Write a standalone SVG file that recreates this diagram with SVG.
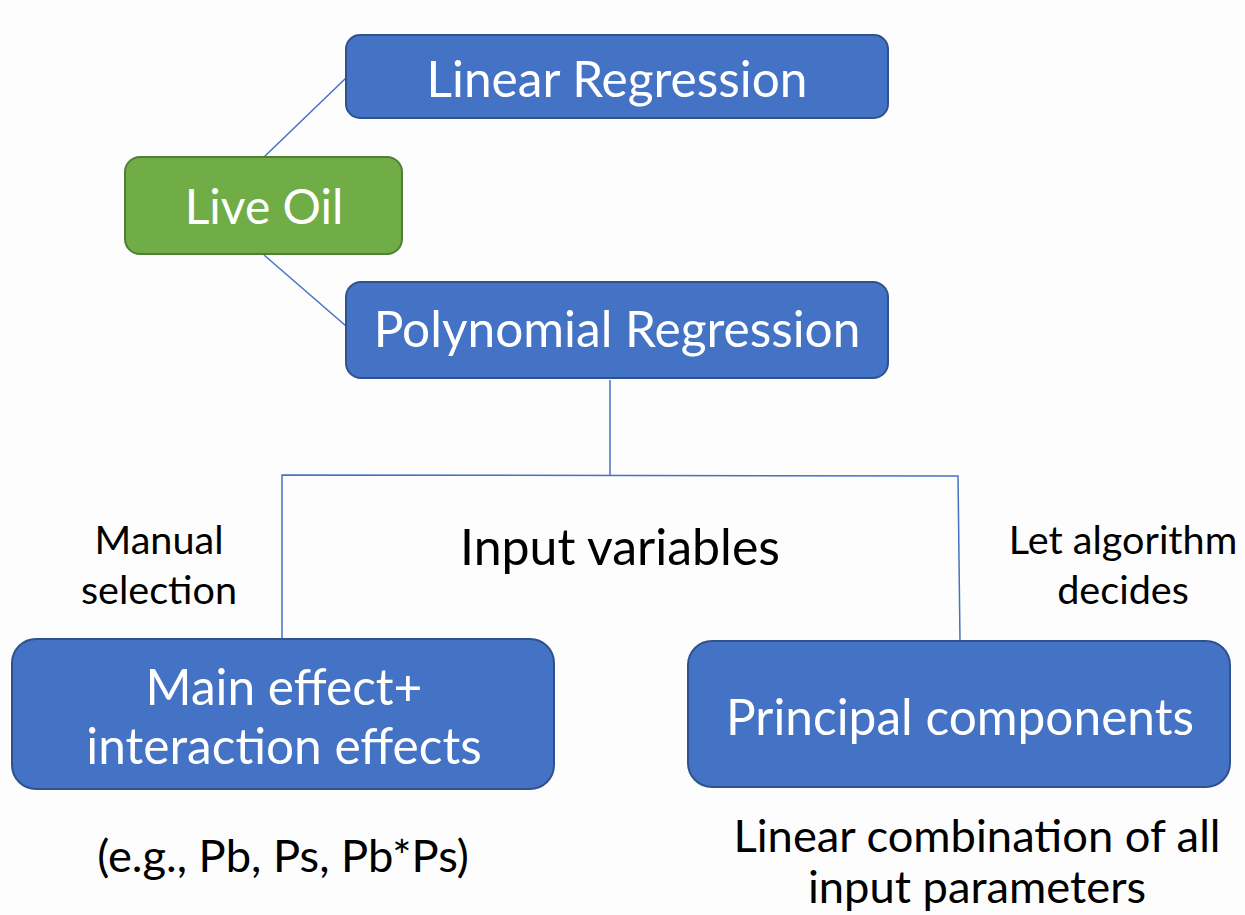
<svg xmlns="http://www.w3.org/2000/svg" width="1245" height="915" viewBox="0 0 1245 915">
<style>
.blue{fill:#4472C4;stroke:#2F528F;stroke-width:2}
.green{fill:#70AD47;stroke:#507E32;stroke-width:2}
.conn{stroke:#4472C4;stroke-width:1.5;fill:none}
.wt{font-family:Lato,"Open Sans",sans-serif;fill:#fff;text-anchor:middle;font-size:49.6px}
.bt{font-family:Lato,"Open Sans",sans-serif;fill:#000;text-anchor:middle}
.sm{font-size:39.6px}
.md{font-size:45.3px}
</style>
<rect width="1245" height="915" fill="#fdfdfd"/>
<g id="connectors">
<line class="conn" x1="264" y1="157" x2="346" y2="78"/>
<line class="conn" x1="264" y1="255" x2="346" y2="326"/>
<line class="conn" x1="610" y1="380" x2="610" y2="475"/>
<polyline class="conn" points="282,638 282,475 958,476 960,641"/>
</g>
<g id="linear">
<rect class="blue" x="346" y="35" width="542" height="83" rx="14"/>
<text class="wt" x="617" y="97">Linear Regression</text>
</g>
<g id="liveoil">
<rect class="green" x="125" y="157" width="277" height="97" rx="15"/>
<text class="wt" x="264" y="224" style="font-size:48px">Live Oil</text>
</g>
<g id="poly">
<rect class="blue" x="346" y="282" width="542" height="96" rx="15"/>
<text class="wt" x="617" y="347">Polynomial Regression</text>
</g>
<g id="mainfx">
<rect class="blue" x="12" y="639" width="542" height="150" rx="24"/>
<text class="wt" x="284" y="705">Main effect+</text>
<text class="wt" x="284" y="764">interaction effects</text>
</g>
<g id="pc">
<rect class="blue" x="688" y="641" width="542" height="146" rx="24"/>
<text class="wt" x="960" y="735">Principal components</text>
</g>
<g id="labels">
<text class="bt" x="620" y="565" font-size="50">Input variables</text>
<text class="bt sm" x="159" y="554">Manual</text>
<text class="bt sm" x="159" y="604">selection</text>
<text class="bt sm" x="1123" y="554">Let algorithm</text>
<text class="bt sm" x="1123" y="604">decides</text>
<text class="bt md" x="283" y="872">(e.g., Pb, Ps, Pb*Ps)</text>
<text class="bt md" x="977" y="852">Linear combination of all</text>
<text class="bt md" x="977" y="903">input parameters</text>
</g>
</svg>
